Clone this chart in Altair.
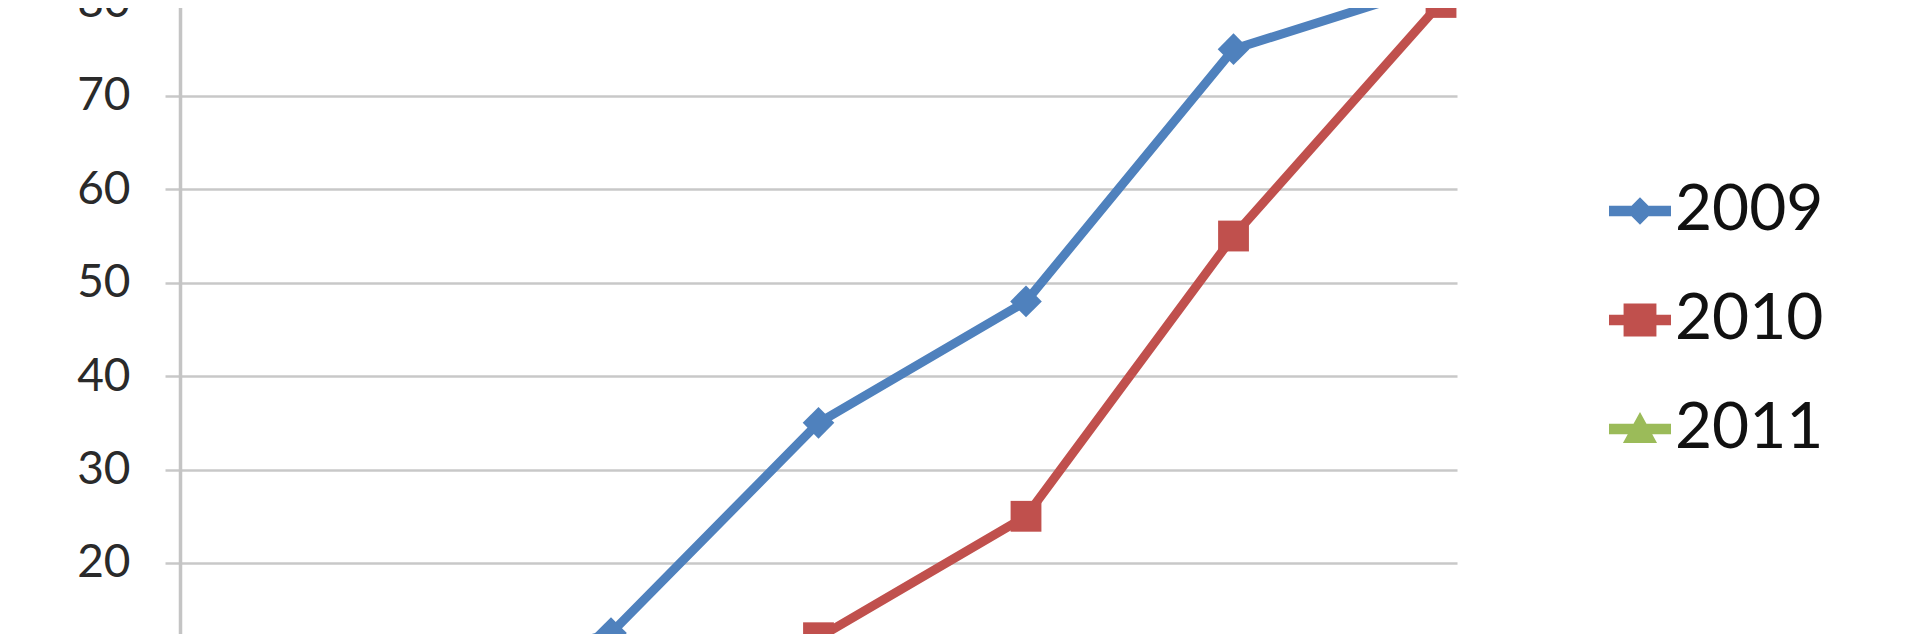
import altair as alt
import pandas as pd

categories = ["1", "2", "3", "4", "5", "6", "7"]
series_names = ["2009", "2010", "2011"]
values_2009 = [3, 6, 12.5, 35, 48, 75, 82]
values_2010 = [1, 4, 7, 12, 25, 55, 80]
values_2011 = [2, 5, 9, None, None, None, None]
y_ticks = [20, 30, 40, 50, 60, 70, 80]
colors = ["#4F81BD", "#C0504D", "#9BBB59"]

rows = []
for name, vals in zip(series_names, [values_2009, values_2010, values_2011]):
    for c, v in zip(categories, vals):
        if v is not None:
            rows.append({"cat": c, "series": name, "value": v})
df = pd.DataFrame(rows)

marker_shapes = ["diamond", "square", "triangle-up"]
marker_sizes = [1000, 950, 1000]
legend_shapes = [
    "M-1,-0.17L1,-0.17L1,0.17L-1,0.17Z M0,-0.44L0.44,0L0,0.44L-0.44,0Z",
    "M-1,-0.17L1,-0.17L1,0.17L-1,0.17Z M-0.53,-0.53L0.53,-0.53L0.53,0.53L-0.53,0.53Z",
    "M-1,-0.17L1,-0.17L1,0.17L-1,0.17Z M0,-0.55L0.55,0.45L-0.55,0.45Z",
]

x_enc = alt.X("cat:N", sort=categories,
              scale=alt.Scale(type="point", padding=0.077), axis=None)
y_enc = alt.Y("value:Q",
              scale=alt.Scale(domain=[12.40, 80.05], nice=False, zero=False),
              axis=alt.Axis(values=y_ticks, title=None, grid=True,
                            gridColor="#c8c8c8", gridWidth=2.5,
                            domainColor="#c4c4c4", domainWidth=3.5,
                            tickColor="#c8c8c8", tickWidth=2.5, tickSize=15,
                            labelFont="Lato", labelFontSize=46,
                            labelColor="#2a2a2a", labelPadding=35))

base = alt.Chart(df)

layers = []
for name, col in zip(series_names, colors):
    layers.append(
        base.transform_filter(alt.datum.series == name)
        .mark_line(strokeWidth=9, color=col, clip=True)
        .encode(x=x_enc, y=y_enc)
    )
for name, col, shp, sz in zip(series_names, colors, marker_shapes, marker_sizes):
    layers.append(
        base.transform_filter(alt.datum.series == name)
        .mark_point(filled=True, opacity=1, color=col, shape=shp, size=sz, clip=True)
        .encode(x=x_enc, y=y_enc)
    )

leg = alt.Legend(title=None, orient="none", legendX=1428, legendY=177,
                 symbolSize=3844, symbolOpacity=1, symbolStrokeWidth=0,
                 labelFont="Lato", labelFontSize=64, labelColor="#111111",
                 labelOffset=3, rowPadding=45, padding=0)

legend_layer = base.mark_point(filled=True, opacity=0, clip=True).encode(
    x=x_enc, y=y_enc,
    color=alt.Color("series:N", scale=alt.Scale(domain=series_names, range=colors), legend=leg),
    shape=alt.Shape("series:N", scale=alt.Scale(domain=series_names, range=legend_shapes),
                    legend=leg),
)
layers.append(legend_layer)

chart = alt.layer(*layers).properties(
    width=1277, height=632,
    autosize=alt.AutoSizeParams(type="none"),
    padding={"left": 172, "top": -6, "right": 440, "bottom": 0},
    background="white",
).configure_view(stroke=None)

chart.save("out.html", embed_options={"renderer": "svg", "actions": False})
